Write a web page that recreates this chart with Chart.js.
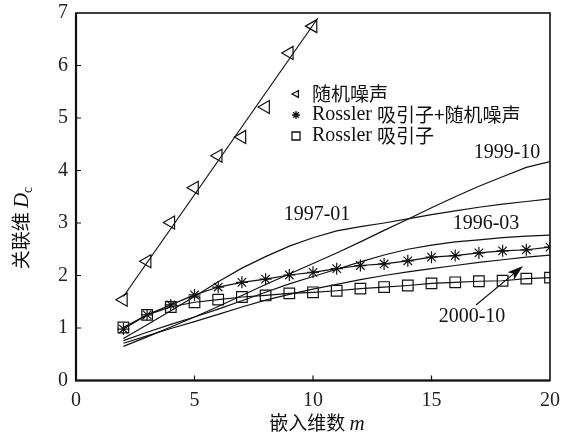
<!DOCTYPE html>
<html>
<head>
<meta charset="utf-8">
<script src="https://cdn.jsdelivr.net/npm/chart.js@4.4.1/dist/chart.umd.min.js"></script>
<style>
  html, body { margin: 0; padding: 0; background: #fff; }
  #wrap { width: 561px; height: 436px; }
</style>
</head>
<body>
<div id="wrap"><canvas id="chart" width="561" height="436"></canvas></div>
<script>
// embedding dimension m
const dims = [2, 3, 4, 5, 6, 7, 8, 9, 10, 11, 12, 13, 14, 15, 16, 17, 18, 19, 20];

// random noise markers and its straight fit
const noiseDims = [2, 3, 4, 5, 6, 7, 8, 9, 10];
const noiseVals = [1.54, 2.27, 3.01, 3.67, 4.28, 4.64, 5.21, 6.24, 6.75];
const noiseFitX = [2, 10.2];
const noiseFitY = [1.6, 6.9];

// Rossler attractor + noise, Rossler attractor
const rosNoiseVals = [0.98, 1.25, 1.44, 1.63, 1.78, 1.87, 1.93, 2.01, 2.06, 2.13, 2.19, 2.22, 2.28, 2.35, 2.38, 2.43, 2.47, 2.49, 2.54];
const rosVals = [1.01, 1.25, 1.40, 1.49, 1.54, 1.59, 1.62, 1.66, 1.68, 1.71, 1.75, 1.78, 1.81, 1.85, 1.87, 1.89, 1.90, 1.94, 1.96];

// market series
const s199910 = [0.65, 0.83, 1.02, 1.21, 1.41, 1.62, 1.83, 2.03, 2.23, 2.43, 2.64, 2.86, 3.07, 3.29, 3.50, 3.70, 3.88, 4.06, 4.17];
const s199701 = [0.80, 1.06, 1.33, 1.60, 1.88, 2.14, 2.36, 2.56, 2.72, 2.85, 2.93, 3.00, 3.08, 3.16, 3.23, 3.30, 3.36, 3.41, 3.46];
const s199603 = [0.76, 0.92, 1.07, 1.21, 1.36, 1.52, 1.68, 1.84, 1.98, 2.12, 2.26, 2.39, 2.50, 2.58, 2.64, 2.68, 2.72, 2.75, 2.77];
const s200010 = [0.71, 0.85, 0.99, 1.12, 1.26, 1.40, 1.53, 1.64, 1.74, 1.83, 1.92, 2.00, 2.07, 2.13, 2.19, 2.25, 2.30, 2.35, 2.39];

const xTicks = [0, 5, 10, 15, 20];
const yTicks = [0, 1, 2, 3, 4, 5, 6, 7];

const serif = '"Liberation Serif", "DejaVu Serif", serif';
const cjk = '"Noto Sans CJK SC", "Noto Sans", sans-serif';

const pts = (xs, ys) => xs.map((x, i) => ({ x: x, y: ys[i] }));

function curve(vals) {
    return {
        data: pts(dims, vals),
        showLine: true,
        borderColor: '#111',
        borderWidth: 1.2,
        pointRadius: 0,
        tension: 0
    };
}

// draw a run of text pieces with different fonts, starting at x
function textRun(ctx, pieces, x, y) {
    pieces.forEach(p => {
        ctx.font = p.font;
        ctx.fillText(p.text, x, y + (p.dy || 0));
        x += ctx.measureText(p.text).width;
    });
    return x;
}
function runWidth(ctx, pieces) {
    let w = 0;
    pieces.forEach(p => { ctx.font = p.font; w += ctx.measureText(p.text).width; });
    return w;
}

function marker(ctx, type, x, y, r) {
    ctx.beginPath();
    if (type === 'tri') {
        ctx.moveTo(x - r, y);
        ctx.lineTo(x + r * 0.6, y - r * 0.85);
        ctx.lineTo(x + r * 0.6, y + r * 0.85);
        ctx.closePath();
    } else if (type === 'star') {
        for (let k = 0; k < 4; k++) {
            const a = k * Math.PI / 4;
            ctx.moveTo(x - r * Math.cos(a), y - r * Math.sin(a));
            ctx.lineTo(x + r * Math.cos(a), y + r * Math.sin(a));
        }
    } else {
        ctx.rect(x - r, y - r, 2 * r, 2 * r);
    }
    ctx.stroke();
}

const decor = {
    id: 'decor',
    afterDatasetsDraw(chart) {
        const ctx = chart.ctx;
        const a = chart.chartArea;
        const xs = chart.scales.x, ys = chart.scales.y;
        ctx.save();
        ctx.strokeStyle = '#111';
        ctx.fillStyle = '#111';

        // frame
        ctx.lineWidth = 1.6;
        ctx.strokeRect(a.left, a.top, a.right - a.left, a.bottom - a.top);
        ctx.lineWidth = 2.2;
        ctx.beginPath();
        ctx.moveTo(a.left, a.top);
        ctx.lineTo(a.left, a.bottom);
        ctx.lineTo(a.right, a.bottom);
        ctx.stroke();

        // inward ticks
        ctx.lineWidth = 1.2;
        ctx.beginPath();
        xTicks.slice(1, -1).forEach(v => {
            const px = xs.getPixelForValue(v);
            ctx.moveTo(px, a.bottom);
            ctx.lineTo(px, a.bottom - 5);
        });
        yTicks.slice(1, -1).forEach(v => {
            const py = ys.getPixelForValue(v);
            ctx.moveTo(a.left, py);
            ctx.lineTo(a.left + 5, py);
        });
        ctx.stroke();

        // series labels
        ctx.font = '20px ' + serif;
        ctx.textAlign = 'center';
        ctx.textBaseline = 'middle';
        ctx.fillText('1999-10', 507, 153);
        ctx.fillText('1997-01', 317, 215);
        ctx.fillText('1996-03', 486, 224);
        ctx.fillText('2000-10', 472, 317);

        // arrow to 2000-10 curve
        const x0 = 476, y0 = 305, x1 = 523, y1 = 266;
        const ang = Math.atan2(y1 - y0, x1 - x0);
        ctx.lineWidth = 1.2;
        ctx.beginPath();
        ctx.moveTo(x0, y0);
        ctx.lineTo(x1 - 10 * Math.cos(ang), y1 - 10 * Math.sin(ang));
        ctx.stroke();
        ctx.beginPath();
        ctx.moveTo(x1, y1);
        ctx.lineTo(x1 - 16 * Math.cos(ang) + 5 * Math.sin(ang), y1 - 16 * Math.sin(ang) - 5 * Math.cos(ang));
        ctx.lineTo(x1 - 12 * Math.cos(ang), y1 - 12 * Math.sin(ang));
        ctx.lineTo(x1 - 16 * Math.cos(ang) - 5 * Math.sin(ang), y1 - 16 * Math.sin(ang) + 5 * Math.cos(ang));
        ctx.closePath();
        ctx.fill();

        // legend
        const rows = [
            { type: 'tri', y: 94, pieces: [{ text: '随机噪声', font: '19px ' + cjk }] },
            { type: 'star', y: 115, pieces: [{ text: 'Rossler ', font: '20px ' + serif }, { text: '吸引子+随机噪声', font: '19px ' + cjk }] },
            { type: 'sq', y: 136, pieces: [{ text: 'Rossler ', font: '20px ' + serif }, { text: '吸引子', font: '19px ' + cjk }] }
        ];
        ctx.textAlign = 'left';
        ctx.textBaseline = 'middle';
        rows.forEach(r => {
            ctx.lineWidth = 1.3;
            marker(ctx, r.type, 296, r.y, 4);
            textRun(ctx, r.pieces, 312, r.y);
        });

        // x title
        const xt = [{ text: '嵌入维数 ', font: '19px ' + cjk }, { text: 'm', font: 'italic 21px ' + serif }];
        ctx.textBaseline = 'alphabetic';
        const xw = runWidth(ctx, xt);
        textRun(ctx, xt, (a.left + a.right) / 2 - xw / 2 + 4, 430);

        // y title (rotated)
        ctx.translate(28, 228);
        ctx.rotate(-Math.PI / 2);
        const yt = [{ text: '关联维 ', font: '19px ' + cjk }, { text: 'D', font: 'italic 21px ' + serif }, { text: 'c', font: '14px ' + serif, dy: 4 }];
        const yw = runWidth(ctx, yt);
        textRun(ctx, yt, -yw / 2, 0);
        ctx.restore();
    }
};

new Chart(document.getElementById('chart'), {
    type: 'scatter',
    data: {
        datasets: [
            {
                data: pts(noiseDims, noiseVals),
                pointStyle: 'triangle',
                rotation: -90,
                pointRadius: 7.5,
                pointBorderWidth: 1.2,
                pointBorderColor: '#111',
                pointBackgroundColor: 'rgba(0,0,0,0)',
                showLine: false
            },
            {
                data: pts(noiseFitX, noiseFitY),
                showLine: true,
                borderColor: '#111',
                borderWidth: 1.2,
                pointRadius: 0
            },
            {
                data: pts(dims, rosNoiseVals),
                showLine: true,
                borderColor: '#111',
                borderWidth: 1.2,
                pointStyle: 'star',
                pointRadius: 6,
                pointBorderWidth: 1.2,
                pointBorderColor: '#111',
                pointBackgroundColor: 'rgba(0,0,0,0)'
            },
            {
                data: pts(dims, rosVals),
                showLine: true,
                borderColor: '#111',
                borderWidth: 1.2,
                pointStyle: 'rect',
                pointRadius: 7.5,
                pointBorderWidth: 1.2,
                pointBorderColor: '#111',
                pointBackgroundColor: 'rgba(0,0,0,0)'
            },
            curve(s199910),
            curve(s199701),
            curve(s199603),
            curve(s200010)
        ]
    },
    options: {
        responsive: false,
        animation: false,
        layout: { padding: { left: 0, right: 11, top: 13, bottom: 0 } },
        plugins: { legend: { display: false }, tooltip: { enabled: false } },
        scales: {
            x: {
                type: 'linear',
                min: 0,
                max: 20,
                afterBuildTicks: s => { s.ticks = xTicks.map(v => ({ value: v })); },
                afterFit: s => { s.height = 55.5; s.paddingLeft = 0; s.paddingRight = 0; },
                grid: { display: false, drawTicks: false },
                border: { display: false },
                ticks: { padding: 8, color: '#222', font: { family: serif, size: 20 } }
            },
            y: {
                type: 'linear',
                min: 0,
                max: 7,
                afterBuildTicks: s => { s.ticks = yTicks.map(v => ({ value: v })); },
                afterFit: s => { s.width = 76; s.paddingTop = 0; s.paddingBottom = 0; },
                grid: { display: false, drawTicks: false },
                border: { display: false },
                ticks: { padding: 8, color: '#222', font: { family: serif, size: 20 } }
            }
        }
    },
    plugins: [decor]
});
</script>
</body>
</html>
